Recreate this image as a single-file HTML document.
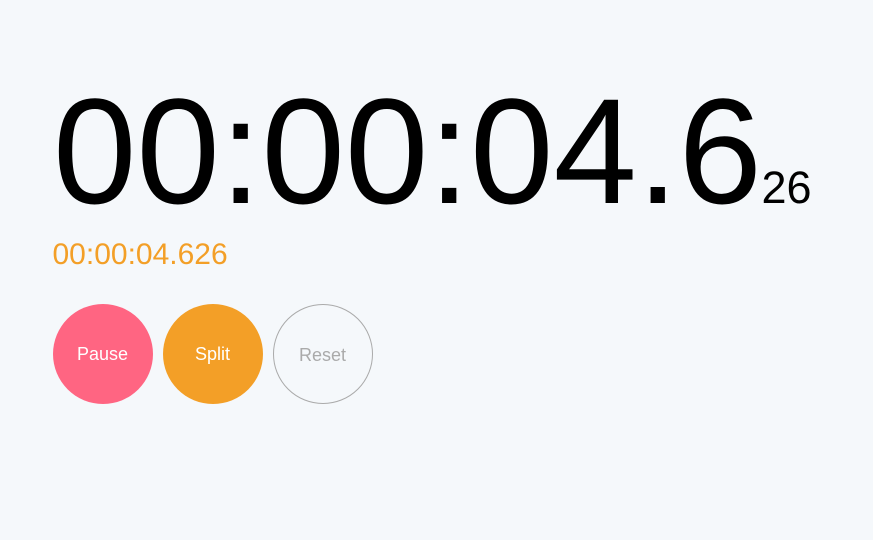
<!DOCTYPE html>
<html lang="en">
<head>
<meta charset="utf-8">
<title>Stopwatch</title>
<style>
html,body{margin:0;padding:0;width:873px;height:540px;overflow:hidden;background:#f5f8fb;font-family:"Liberation Sans",Arial,sans-serif}
.abs{position:absolute;white-space:nowrap}
#main{left:53px;top:65px;font-size:150px;line-height:172px;color:#000}
#ms{left:761.5px;top:162px;font-size:45px;line-height:52px;color:#000}
#sub{left:52.5px;top:237px;font-size:30px;line-height:35px;color:#f39f27}
.btn{position:absolute;top:304px;width:100px;height:100px;border-radius:50%;box-sizing:border-box;border:0;padding:0 1px 0 0;margin:0;font:18px/100px "Liberation Sans",Arial,sans-serif;text-align:center;color:#fff}
#pause{left:53px;background:#ff6582}
#split{left:163px;background:#f39f27}
#reset{left:273px;background:transparent;border:1px solid #aaa;color:#aaa;line-height:100px}
</style>
</head>
<body>
<div id="main" class="abs">00:00:04.6</div>
<div id="ms" class="abs">26</div>
<div id="sub" class="abs">00:00:04.626</div>
<button id="pause" class="btn">Pause</button>
<button id="split" class="btn">Split</button>
<button id="reset" class="btn">Reset</button>
</body>
</html>
